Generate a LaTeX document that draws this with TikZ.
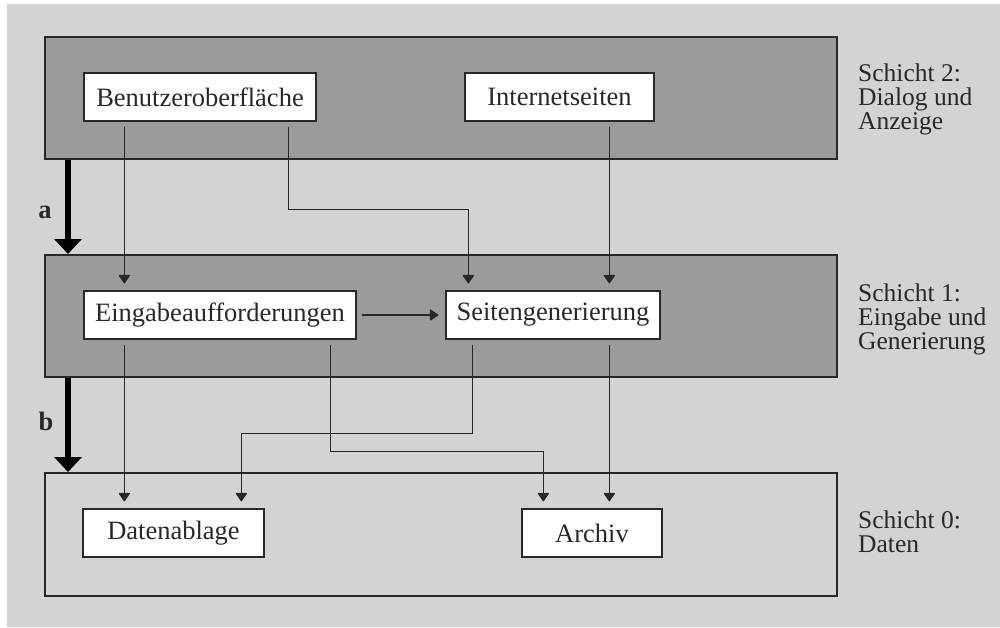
\documentclass[tikz,border=0pt]{standalone}
\usepackage{fontspec}
\setmainfont{Liberation Serif}
\usetikzlibrary{arrows.meta}
\definecolor{bgc}{RGB}{211,211,211}
\definecolor{darkc}{RGB}{155,155,155}
\definecolor{ink}{RGB}{40,40,40}
\tikzset{
  layer/.style={draw=ink, line width=2pt, minimum width=792pt, minimum height=122pt, inner sep=0pt},
  dlayer/.style={layer, fill=darkc},
  llayer/.style={layer, fill=bgc},
  box/.style={draw=ink, line width=1.3pt, fill=white, minimum height=48pt, inner sep=0pt, text=ink,
    font=\fontsize{26.5}{26.5}\selectfont},
  conn/.style={draw=ink, line width=1.3pt, -{Triangle[width=12pt,length=9pt,round]}, shorten <=5pt, shorten >=7pt},
  thick arrow/.style={draw=black, line width=5.5pt, -{Triangle[width=27pt,length=15pt]}},
  side/.style={anchor=north west, align=left, inner sep=0pt, text=ink, font=\fontsize{25.5}{24}\selectfont},
  lab/.style={anchor=base, inner sep=0pt, text=ink, font=\fontsize{26.5}{26.5}\selectfont\bfseries}
}
\begin{document}
\begin{tikzpicture}[x=1pt,y=-1pt]
\useasboundingbox (0,0) rectangle (1000,627);
\fill[white] (0,0) rectangle (1000,627);
\fill[bgc] (7,4) rectangle (1000,627);

\node[dlayer] (L2) at (441,98) {};
\node[dlayer] (L1) at (441,316) {};
\node[llayer, minimum height=123pt] (L0) at (441,534.5) {};

\node[box, minimum width=232pt] (ben) at (200,97) {Benutzeroberfläche};
\node[box, minimum width=189pt] (inet) at (559.5,97) {Internetseiten};
\node[box, minimum width=272pt] (ein) at (220,315) {Eingabeaufforderungen};
\node[box, minimum width=214pt] (seit) at (553,315) {Seitengenerierung};
\node[box, minimum width=181pt] (daten) at (173.5,533) {Datenablage};
\node[box, minimum width=140pt] (archiv) at (592,533) {Archiv};

\draw[thick arrow] ([xshift=24pt]L2.south west) -- ([xshift=24pt]L1.north west);
\draw[thick arrow] ([xshift=24pt]L1.south west) -- ([xshift=24pt]L0.north west);
\node[lab] (la) at (45,218) {a};
\node[lab] (lb) at (46,430) {b};

\draw[conn] ([xshift=41pt]ben.south west) -- ([xshift=41pt]ein.north west);
\draw[conn] ([xshift=205pt]ben.south west) -- ++(0,88) -| ([xshift=23pt]seit.north west);
\draw[conn] ([xshift=145pt]inet.south west) -- ([xshift=164pt]seit.north west);
\draw[conn] (ein) -- (seit);
\draw[conn] ([xshift=41pt]ein.south west) -- ([xshift=42pt]daten.north west);
\draw[conn] ([xshift=27pt]seit.south west) -- ++(0,94) -| ([xshift=159pt]daten.north west);
\draw[conn] ([xshift=247pt]ein.south west) -- ++(0,112) -| ([xshift=22pt]archiv.north west);
\draw[conn] ([xshift=164pt]seit.south west) -- ([xshift=88pt]archiv.north west);

\node[side] (s2) at (858,64) {Schicht 2:\\Dialog und\\Anzeige};
\node[side] (s1) at (858,284) {Schicht 1:\\Eingabe und\\Generierung};
\node[side] (s0) at (858,511) {Schicht 0:\\Daten};
\end{tikzpicture}
\end{document}
